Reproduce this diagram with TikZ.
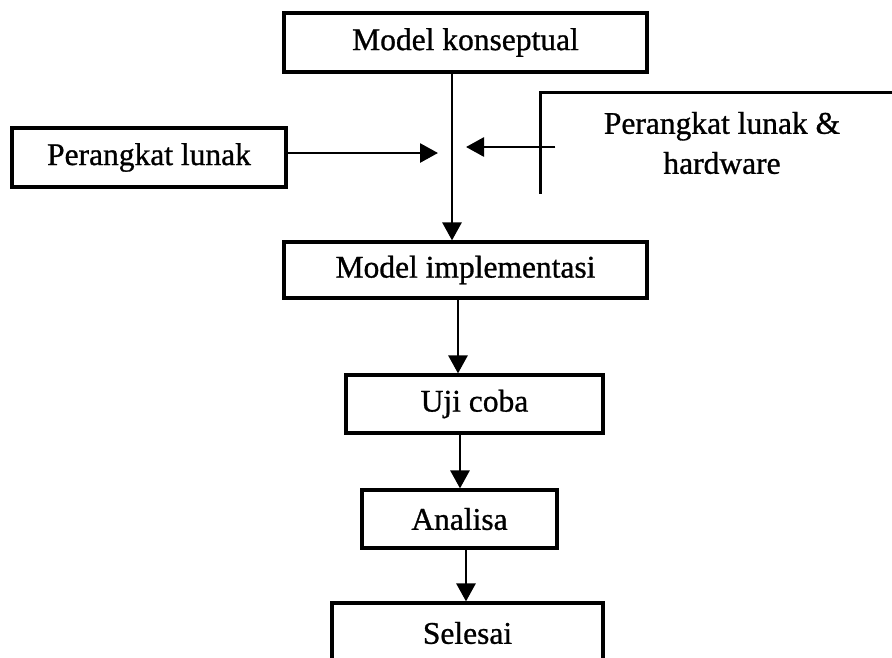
\documentclass[tikz,border=0pt]{standalone}
\usepackage{fontspec}
\setmainfont{Liberation Serif}
\newfontfamily\scanfont{Liberation Serif}[FakeBold=0.9]
\usetikzlibrary{arrows.meta,positioning}
\tikzset{
  base/.style={%
    draw,align=center,
    line width=3.2pt,
    inner sep=0pt,
    font=\scanfont\fontsize{31.5}{40}\selectfont,
  },
  stepbox/.style 2 args={%
    base,
    minimum width=#1,
    minimum height=#2,
  },
  flow/.style={%
    ->,line width=2.8pt,
  },
}

\begin{document}
\begin{tikzpicture}[
    x=1pt,y=-1pt,
    >={Triangle[length=18pt,width=19pt]},
]
\useasboundingbox (0,0) rectangle (892,657);
\clip (0,0) rectangle (892,657);
\node[stepbox={363pt}{59pt}] (konsep) at (465.5,42.5) {Model konseptual};
\node[stepbox={274pt}{59pt}] (lunak) at (149,157.5) {Perangkat lunak};
\node[base,draw=none,minimum width=360pt,minimum height=98pt] (hw) at (722,143) {Perangkat lunak \&\\hardware};
\node[stepbox={363pt}{56pt}] (impl) at (465.5,270) {Model implementasi};
\node[stepbox={257pt}{58pt}] (uji) at (474.5,404) {Uji coba};
\node[stepbox={195pt}{58pt}] (analisa) at (459.5,519) {Analisa};
\node[stepbox={271pt}{60pt}] (selesai) at (467.5,633) {Selesai};
% frame of the cut box
\draw[line width=3.2pt] (hw.south west) |- (hw.north east);
\coordinate (axis) at (452,0);
\coordinate (inL) at (438,153);
\coordinate (inR) at (466,147);
\coordinate (outR) at ([xshift=15pt]hw.west |- inR);
\coordinate (d1) at ([xshift=-7.5pt]impl.south);
\coordinate (d2) at ([xshift=-14.5pt]uji.south);
\coordinate (d3) at ([xshift=6.5pt]analisa.south);
\draw[flow] (konsep.south -| axis) -- (impl.north -| axis);
\draw[flow] (lunak.east |- inL) -- (inL);
\draw[flow] (outR) -- (inR);
\draw[flow] (d1) -- (d1 |- uji.north);
\draw[flow] (d2) -- (d2 |- analisa.north);
\draw[flow] (d3) -- (d3 |- selesai.north);
\end{tikzpicture}
\end{document}
